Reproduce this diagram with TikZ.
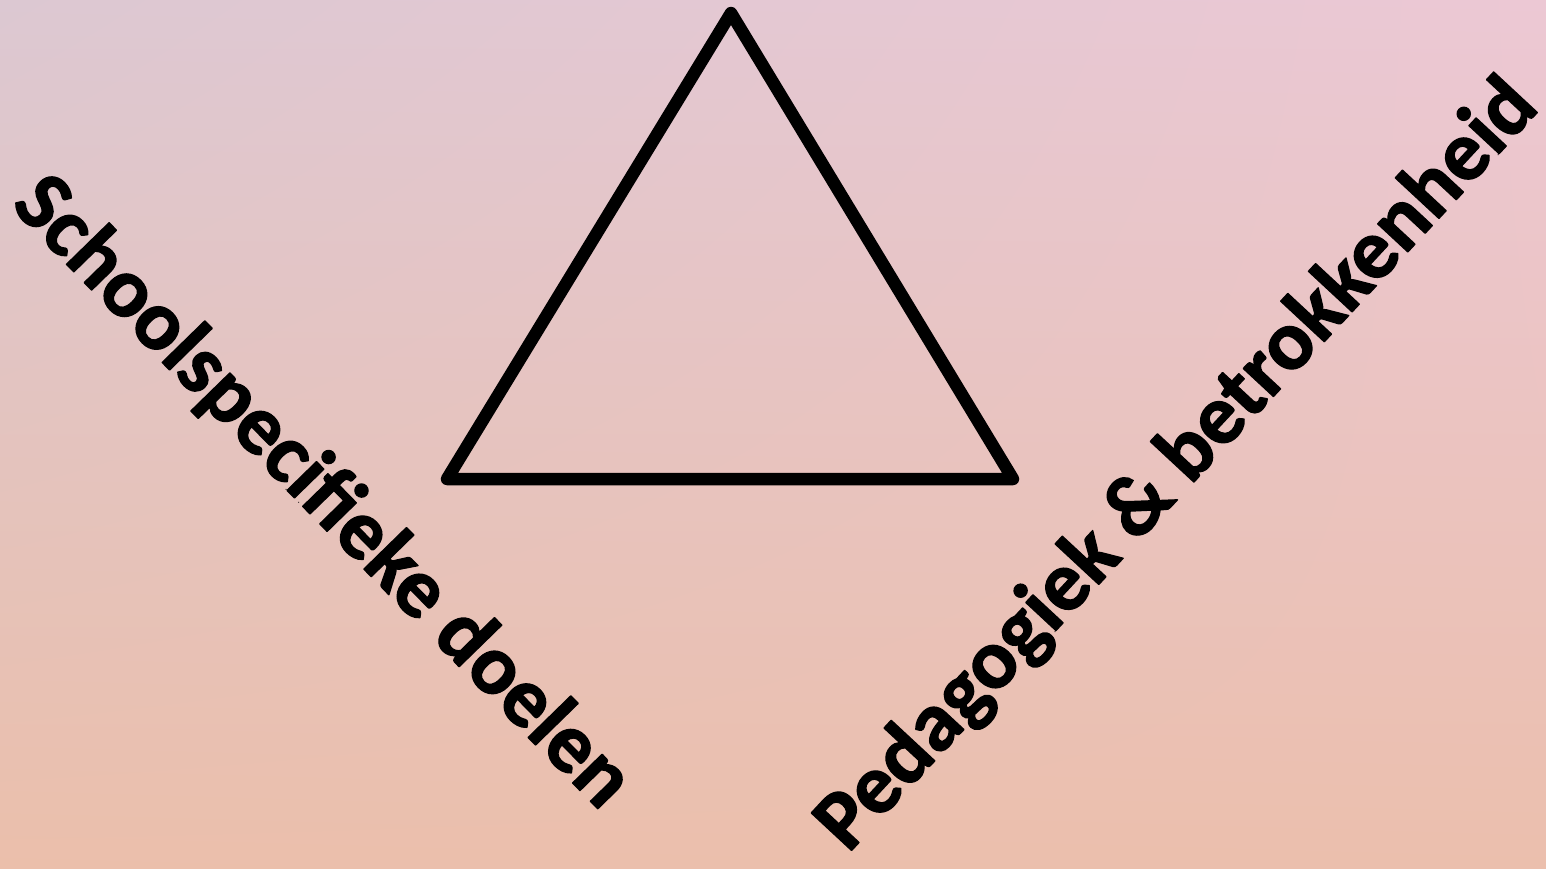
\documentclass[tikz,border=0pt]{standalone}
\usepackage{fontspec}
\setmainfont{Carlito}
\usetikzlibrary{shadings}
\definecolor{bgUL}{HTML}{DCC8D2}
\definecolor{bgUR}{HTML}{ECC8D4}
\definecolor{bgLL}{HTML}{EBBFAB}
\definecolor{bgLR}{HTML}{EBBFAD}
\newcommand{\heavytext}[1]{\special{pdf:literal direct 1 j 1 J 2 M 2 Tr 1.3 w 0 0 0 RG}#1\special{pdf:literal direct 0 Tr}}
\tikzset{
  lbl/.style={font=\bfseries\fontsize{85}{100}\selectfont, text=black, inner sep=0pt},
  tri/.style={draw=black, line width=12.5pt, line join=round, line cap=round}
}
\begin{document}
\begin{tikzpicture}[x=1pt,y=-1pt]
\shade[upper left=bgUL, upper right=bgUR, lower left=bgLL, lower right=bgLR] (0,0) rectangle (1546,868);
\useasboundingbox (0,0) rectangle (1546,868);
\coordinate (top) at (731,13);
\coordinate (bl) at (447,479);
\coordinate (br) at (1013,479);
\draw[tri] (top) -- (br) -- (bl) -- cycle;
\node[lbl, rotate=-45.7] (left) at (322,493) {\heavytext{Schoolspecifieke doelen}};
\node[lbl, rotate=47.1] (right) at (1178,466) {\heavytext{Pedagogiek \& betrokkenheid}};
\end{tikzpicture}
\end{document}
